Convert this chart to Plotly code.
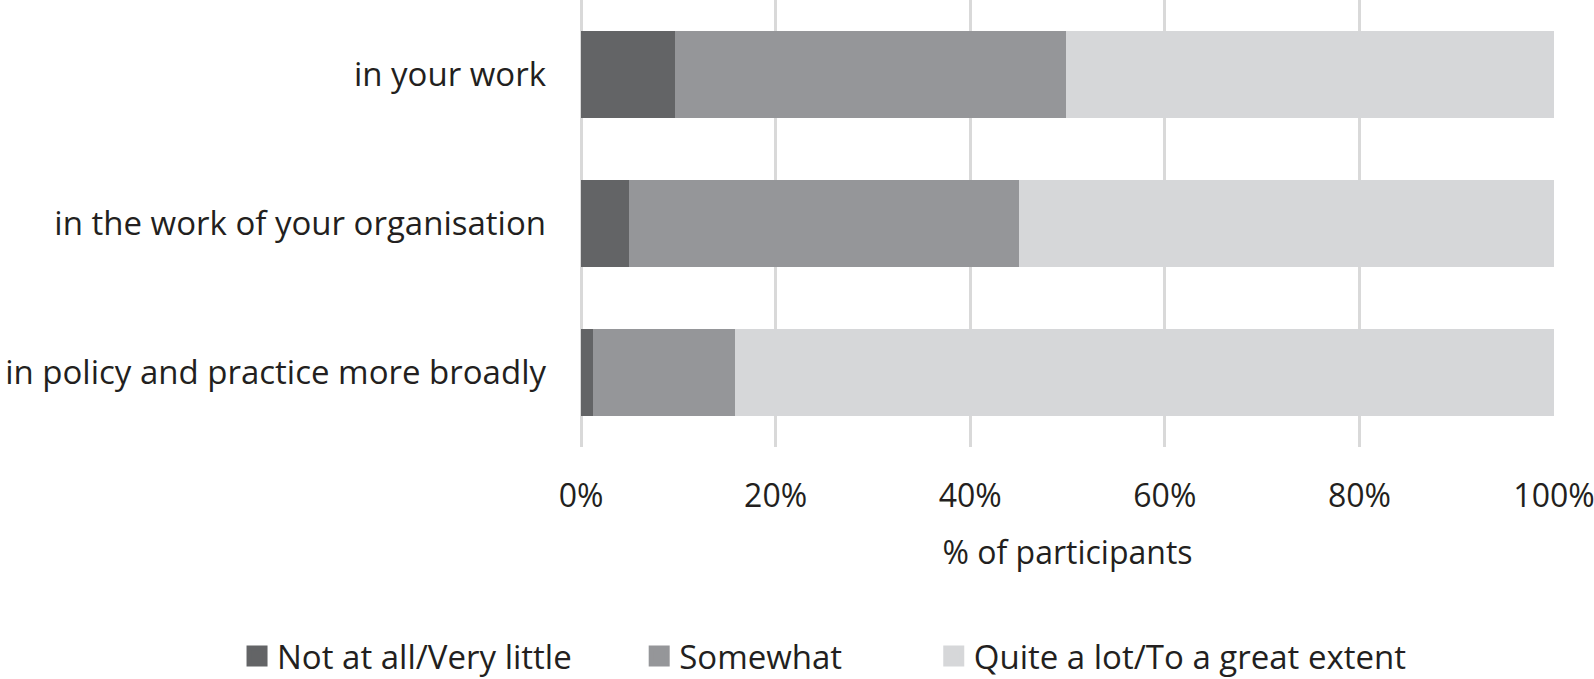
import plotly.graph_objects as go

categories = ["in your work", "in the work of your organisation", "in policy and practice more broadly"]
series_names = ["Not at all/Very little", "Somewhat", "Quite a lot/To a great extent"]
not_at_all = [9.7, 4.9, 1.2]
somewhat = [40.1, 40.1, 14.6]
quite_a_lot = [50.2, 55.0, 84.2]
colors = ["#636466", "#959699", "#d6d7d9"]

FONT = "Open Sans"
SIZE = 32

# one small legend per series, so each key sits where the reference puts it
legend_ids = ["legend", "legend2", "legend3"]
legend_x = [0.1487, 0.401, 0.5858]

fig = go.Figure()
for name, vals, col, lg in zip(series_names, [not_at_all, somewhat, quite_a_lot], colors, legend_ids):
    fig.add_trace(go.Bar(
        y=categories, x=vals, name=name, orientation="h",
        marker=dict(color=col, line=dict(width=0)),
        showlegend=False,
    ))
    # legend-only square marker; the outline makes the key as big as the reference one
    fig.add_trace(go.Scatter(
        x=[None], y=[None], mode="markers", name=name, legend=lg,
        marker=dict(symbol="square", size=16, color=col, line=dict(width=6, color=col)),
    ))

legend_style = dict(
    orientation="h", xref="container", yref="container",
    xanchor="left", y=0.0339, yanchor="middle",
    font=dict(size=33), itemwidth=30, bgcolor="rgba(0,0,0,0)",
)

fig.update_layout(
    width=1594, height=679,
    barmode="stack", bargap=0.42,
    plot_bgcolor="white", paper_bgcolor="white",
    margin=dict(l=581, r=40, t=0, b=232, autoexpand=False),
    font=dict(family=FONT, size=SIZE, color="#231f20"),
    legend=dict(legend_style, x=legend_x[0]),
    legend2=dict(legend_style, x=legend_x[1]),
    legend3=dict(legend_style, x=legend_x[2]),
    xaxis=dict(
        range=[0, 100], dtick=20, ticksuffix="%",
        showgrid=True, gridcolor="#d9d9d9", gridwidth=3,
        zeroline=True, zerolinecolor="#d9d9d9", zerolinewidth=3,
        showline=False, ticks="", automargin=False,
        ticklabelstandoff=27, ticklabeloverflow="allow",
        title=dict(text="% of participants", standoff=26, font=dict(size=SIZE)),
    ),
    yaxis=dict(
        categoryorder="array", categoryarray=categories[::-1],
        showgrid=False, zeroline=False, showline=False, ticks="",
        ticklabelstandoff=34, automargin=False, tickfont=dict(size=33),
    ),
)

# drop the page's default body margin so the figure sits at the window corner
fig.write_html("out.html", config={"displayModeBar": False},
               post_script="document.body.style.margin='0';")
